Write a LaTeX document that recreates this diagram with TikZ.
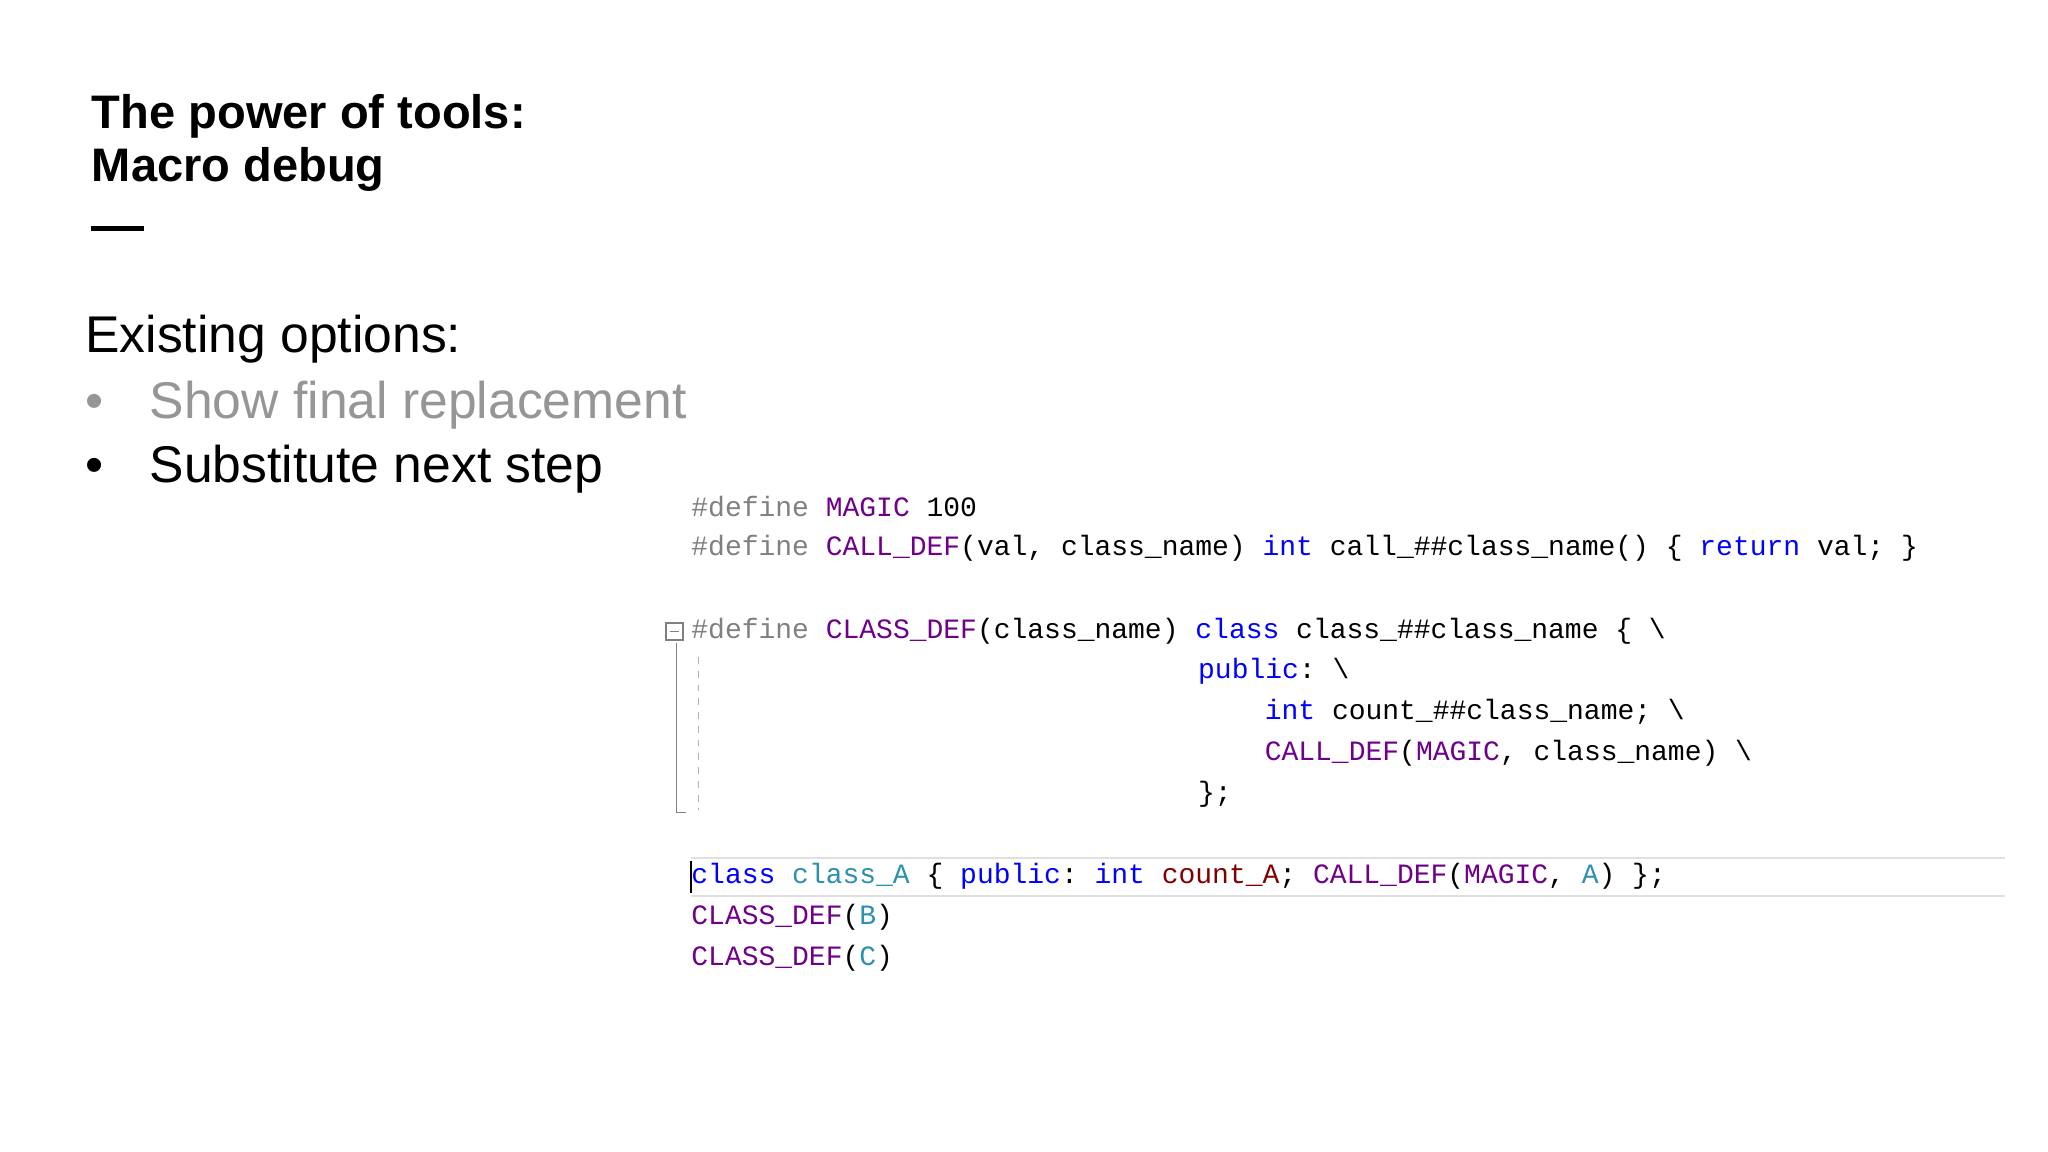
\documentclass[tikz,border=0pt]{standalone}
\usepackage{fontspec}
\setmainfont{Liberation Sans}
\setmonofont{Liberation Mono}
\definecolor{kgray}{RGB}{128,128,128}
\definecolor{kmac}{RGB}{111,0,138}
\definecolor{kblue}{RGB}{0,0,255}
\definecolor{kteal}{RGB}{43,145,175}
\definecolor{kred}{RGB}{128,0,0}
\definecolor{bgray}{RGB}{150,150,150}
\newcommand{\G}[1]{\textcolor{kgray}{#1}}
\newcommand{\M}[1]{\textcolor{kmac}{#1}}
\newcommand{\B}[1]{\textcolor{kblue}{#1}}
\newcommand{\T}[1]{\textcolor{kteal}{#1}}
\newcommand{\R}[1]{\textcolor{kred}{#1}}
\begin{document}
\begin{tikzpicture}[x=0.02cm,y=-0.02cm,
  code/.style={anchor=west,inner sep=0,font=\ttfamily\fontsize{12.2}{14}\selectfont},
  title/.style={anchor=north west,inner sep=0,align=left,font=\fontsize{20.5}{23}\selectfont\bfseries},
  body/.style={anchor=west,inner sep=0,font=\fontsize{22.5}{26}\selectfont}]
\useasboundingbox[fill=white] (0,0) rectangle (1568,882);
\node[title] (t) at (70,72) {The power of tools:\\Macro debug};
\draw[line width=2.2pt] (70,175) -- (110,175);
\node[body] (e) at (65,260) {Existing options:};
\node[body,text=bgray] (b1) at (65,310) {\textbullet\hspace{0.9em}Show final replacement};
\node[body] (b2) at (65,359) {\textbullet\hspace{0.9em}Substitute next step};
% code
\node[code] (l1) at (529,388) {\G{\#define} \M{MAGIC} 100};
\node[code] (l2) at (529,420) {\G{\#define} \M{CALL\_DEF}(val, class\_name) \B{int} call\_\#\#class\_name() \{ \B{return} val; \}};
\node[code] (l3) at (529,483) {\G{\#define} \M{CLASS\_DEF}(class\_name) \B{class} class\_\#\#class\_name \{ \textbackslash};
\node[code] (l4) at (917,514) {\B{public}: \textbackslash};
\node[code] (l5) at (968,545) {\B{int} count\_\#\#class\_name; \textbackslash};
\node[code] (l6) at (968,577) {\M{CALL\_DEF}(\M{MAGIC}, class\_name) \textbackslash};
\node[code] (l7) at (917,608) {\};};
\draw[black!12,line width=0.8pt] (529,657) -- (1535,657) (529,686) -- (1535,686);
\node[code] (l8) at (529,671) {\B{class} \T{class\_A} \{ \B{public}: \B{int} \R{count\_A}; \M{CALL\_DEF}(\M{MAGIC}, \T{A}) \};};
\draw[black,line width=0.6pt] (529,659) -- (529,684);
\node[code] (l9) at (529,702) {\M{CLASS\_DEF}(\T{B})};
\node[code] (l10) at (529,734) {\M{CLASS\_DEF}(\T{C})};
% fold marker
\draw[kgray,line width=0.6pt] (510,477) rectangle (523,490) (513,483.5) -- (520,483.5);
\draw[kgray,line width=0.6pt] (518,492) -- (518,622) -- (525,622);
\draw[black!30,dashed,line width=0.5pt] (535,503) -- (535,620);
\end{tikzpicture}
\end{document}
